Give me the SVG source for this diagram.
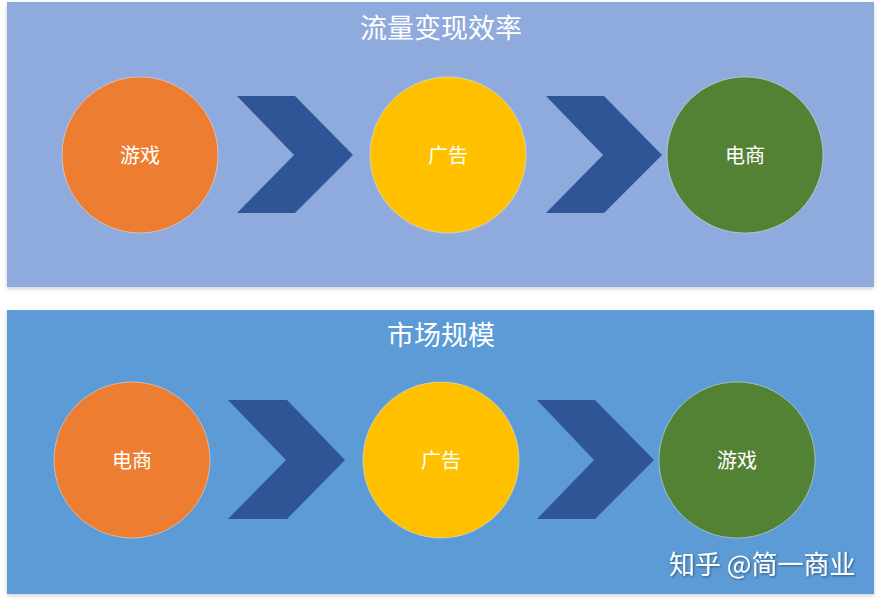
<svg xmlns="http://www.w3.org/2000/svg" width="884" height="602" viewBox="0 0 884 602">
<defs>
<style>
.title{font-family:"Noto Sans CJK SC","Liberation Sans",sans-serif;font-size:27px;fill:#ffffff;text-anchor:middle;dominant-baseline:central}
.lbl{font-family:"Noto Sans CJK SC","Liberation Sans",sans-serif;font-size:20px;fill:#ffffff;text-anchor:middle;dominant-baseline:central}
.chev{fill:#2f5597}
.node{stroke:#e8eef8;stroke-opacity:0.5;stroke-width:1}
.wm{font-family:"Noto Sans CJK SC","Liberation Sans",sans-serif;font-size:26px;fill:#ffffff}
</style>
<filter id="sh" x="-5%" y="-5%" width="110%" height="115%"><feDropShadow dx="0" dy="2" stdDeviation="2" flood-color="#000" flood-opacity="0.18"/></filter>
<filter id="tsh"><feDropShadow dx="1" dy="1" stdDeviation="0.8" flood-color="#1f3b60" flood-opacity="0.7"/></filter>
</defs>
<rect width="884" height="602" fill="#ffffff"/>
<g id="panel-top">
<rect x="7" y="2" width="867" height="285" fill="#8faadc" filter="url(#sh)"/>
<text class="title" x="441" y="26">流量变现效率</text>
</g>
<g id="panel-bottom">
<rect x="7" y="310" width="867" height="284" fill="#5b9bd5" filter="url(#sh)"/>
<text class="title" x="441" y="333">市场规模</text>
</g>
<g id="connectors">
<polygon class="chev" points="237,96 295,96 353,155 295,213 237,213 294,155"/>
<polygon class="chev" points="546,96 604,96 662,155 604,213 546,213 603,155"/>
<polygon class="chev" points="228,400 287,400 345,460 287,519 228,519 286,460"/>
<polygon class="chev" points="537,400 595,400 654,460 595,519 537,519 594,460"/>
</g>
<g id="t-game"><circle class="node" cx="140" cy="155" r="78" fill="#ed7d31"/><text class="lbl" x="140" y="154">游戏</text></g>
<g id="t-ad"><circle class="node" cx="448" cy="155" r="78" fill="#ffc000"/><text class="lbl" x="448" y="154">广告</text></g>
<g id="t-ec"><circle class="node" cx="745" cy="155" r="78" fill="#548235"/><text class="lbl" x="745" y="154">电商</text></g>
<g id="b-ec"><circle class="node" cx="132" cy="460" r="78" fill="#ed7d31"/><text class="lbl" x="132" y="459">电商</text></g>
<g id="b-ad"><circle class="node" cx="441" cy="460" r="78" fill="#ffc000"/><text class="lbl" x="441" y="459">广告</text></g>
<g id="b-game"><circle class="node" cx="737" cy="460" r="78" fill="#548235"/><text class="lbl" x="737" y="459">游戏</text></g>
<text class="wm" x="669" y="574" filter="url(#tsh)">知乎 @简一商业</text>
</svg>
